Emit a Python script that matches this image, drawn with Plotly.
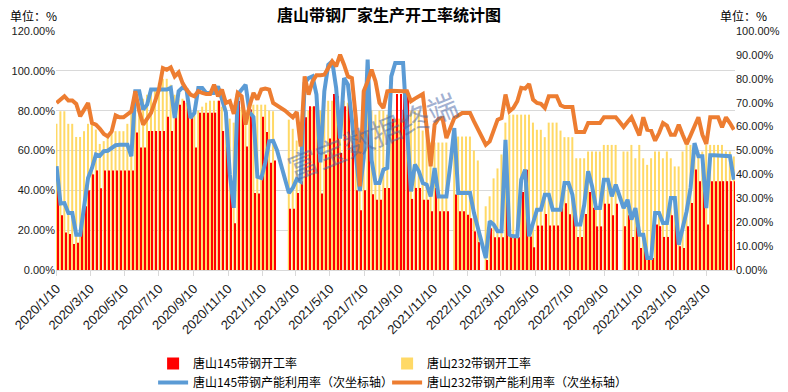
import plotly.graph_objects as go
import pandas as pd

# weekly dates (categories)
weeks = pd.date_range('2020-01-10', periods=173, freq='7D')

red_145 = [
    49.7, 27.5, 18.8, 18.1, 13.1, 13.7, 22.6, 32, 40, 48, 50, 41, 50, 50, 50, 50, 50, 50, 50, 50,
    69, 61.5, 61.5, 69.8, 69.8, 69.8, 69.8, 69.8, 77, 69.8, 83, 83, 85, 83, 77, 61.5, 79, 79, 79, 79, 79, 85, 69.8, 62,
    38.5, 23.5, 84.8, 80.6, 62, 80.6, 38.7, 38.4, 76.9, 69.3, 53.8, 55,
    None, None, None,
    30.7, 30.7, 38.7, 44.6, 76.7, 82.2, 82.2, 69.7, 38.4, 58, 66, 88.4, 87.3, 58.8, 82.2, 88.4, 70, 40, 30, 40,
    82.2, 38, 35.3, 35.3, 41.2, 41.2, 76, 88.4, 88.4,
    88.4, 88.4, 35.7, 41.2, 41.2, 35.3, 35.3, 29.5, 41.2, 29.5, 29.5, 29.5,
    None,
    37.9, 29.5, 29.5, 27.8, 26, 19.4, 14,
    None,
    5, 21, 16.4, 16.4, 16.4, 44, 16.4, 16.4, 16.4, 39.2, 50.3, 16.8, 11.4, 22.3, 22.3, 28.1, 22.3, 22.3, 22.3, 33.5, 33.5, 28,
    28.1, 16.6, 16.6, 28.1, 39.2, 31.2, 21.9, 21.9, 33.3, 33.3, 27.5, 33.3,
    None,
    22, 27.5, 16.6, 22, 11.1, 11.1, 6, 6, 22.8, 22, 16.6, 16.6, 27.5, 27.5, 11.9, 11.1, 22, 33.7, 50.4, 44.6,
    44.6, 22.8, 44.6, 44.6, 44.6, 44.6, 44.6, 44.6, 44.6,
]

yellow_232 = [
    73.4, 79.7, 79.7, 73.4, 73.4, 66.8, 66.8, 69.7, 73.4, 73, 70.5, 63.3, 64.7, 66.3, 69.7, 69.7, 69.7, 69.7, 73.4, 79.7,
    80, 84, 86, 88, 90, 90, 94, 96, 96, 93, 88, 86, 86, 84, 80, 80, 80, 82, 84, 85, 85, 85, 82, 80, 76, 74,
    85, 82, 80, 80, 83, 83, 83, 83, 80, 79.7,
    None, None, None,
    75.5, 70.9, 65, 63, 80, 80, 82, 83, 80, 83, 85, 85, 85, 80, 85, 84, 80, 76, 70, 76,
    80, 80, 78, 80, 80, 78, 80, 76, 76, 76, 76, 80, 80, 80, 70, 70, 64, 64, 64, 64, 64,
    None,
    67, 67, 67, 67, 67, 60, 55,
    None,
    32, 37, 46, 51, 58, 74, 78, 78, 78, 78, 78, 78, 74, 70.4, 70.4, 66.7, 74, 74, 74, 70, 66.7, 66.7,
    66.7, 56.1, 56.1, 56.1, 59.5, 59.5, 59.5, 59.5, 62.8, 62.8, 62.8, 62.8,
    None,
    59.5, 59.5, 62.8, 56.1, 62.8, 56.1, 52.8, 56.1, 59.5, 59.5, 56.1, 59.5, 56.1, 52, 52, 59.5, 62.8, 62.8, 62.8, 59.5,
    59.5, 62.8, 62.8, 62.8, 62.8, 62.8, 59.5, 59.5, 57,
]

blue_145_util = [
    43.4, 27.8, 28, 23.8, 23.8, 14.8, 14.8, 25.9, 38.5, 42.7, 48.3, 47.8, 49.7, 49.9, 51, 52.2, 52.4, 52.4, 52.4, 47.6,
    74.8, 74.8, 67.1, 69.2, 75.5, 75.5, 75.5, 75.5, 75.5, 76.2, 63.6, 74.8, 76.4, 75.5, 63.6, 65.7, 76.2, 76.2, 74.1, 74.1,
    74.1, 76.8, 72,
    66, 40, 26, 73.4, 75.5, 77.5, 66, 64, 39, 38.5, 45, 53.8, 54, 50, 44, 38.5, 32.2, 34.3, 38, 37,
    78.2, 80.3, 81, 73.4, 45, 74.8, 85.9, 87.3, 76.2, 55, 80.3, 77.5, 62.2, 44.6, 33, 46.9, 88, 46, 36.4, 36.4,
    42, 42.7, 81, 86.6, 86.6,
    86.6, 59.4, 32.9, 44.1, 41.3, 36.4, 35.7, 30.8, 42.7, 30.8, 30.8, 30.8, 44.1, 59.4, 32.2, 32.2, 32.2, 32.2, 23.8, 17.6,
    12, 5, 20.4, 19, 16.2, 16.2, 54.5, 14.8, 14.1, 14.1, 37.8, 42, 14.1, 20.4, 25.2, 25.2, 31.5, 31.5, 25.2, 25.2,
    25.2, 36.4, 36.4,
    31.5, 19, 19, 27.3, 41.3, 35, 25.9, 25.9, 37.8, 37.8, 30.8, 35.7, 30.8, 25.9, 29.4, 21.1, 25.9, 14.8, 14.8, 5,
    5, 23.8, 23.8, 19.7, 19.7, 30.1, 30.1, 10.6, 17.6, 24.5, 34.3, 53.1, 47.6, 47.6, 25.9, 48, 48, 48, 47.6, 47.6,
    47.6, 37.8,
]

orange_232_util = [
    69.9, 71.3, 72.7, 70.9, 70.9, 69.5, 64.3, 67.1, 69.9, 61.5, 60.8, 59.1, 56.9, 55.9, 58.0, 64.7, 63.9, 63.9, 65.0, 66.4,
    74.8, 66.4, 60.8, 63.3, 65.7, 70.6, 75.5, 84.5, 83.8, 84.8, 81.0, 82.7, 78.2, 75.5, 73.4, 72.7, 74.8, 74.1, 73.6, 73.6,
    77.5, 72.7, 75.5, 69.9, 70.6,
    65.3, 74.1, 72.7, 60.8, 68.5, 74.1, 71.3, 75.5, 75.9, 75.5, 69.9, 68.9, 67.8, 66.7, 65.3, 63.9, 66.1, 51.7, 81.0, 73.4,
    78.9, 81.5, 81.5, 81.7, 84.5, 87.3, 85.2, 90.1, 85.9, 81.0, 80.3, 63.6, 35.0, 74.8, 78.9, 83.8, 78.9, 69.9, 67.8, 74.8,
    75.0, 74.8, 74.8,
    74.8, 74.8, 70.6, 71.7, 72.7, 73.6, 59.4, 43.4, 60.8, 63.3, 63.6, 55.2, 59.4, 63.6, 64.6, 65.7, 65.7, 65.7, 62.2, 58.7,
    55.2, 52.4, 53.8, 58.0, 62.9, 63.6, 73.4, 66.4, 67.8, 70.6, 76.2, 75.9, 77.8, 71.3, 69.9, 69.5, 67.8, 72.7, 72.7, 72.7,
    68.9, 68.2, 68.2,
    68.2, 57.7, 57.7, 57.7, 61.5, 61.5, 61.5, 61.5, 63.9, 63.9, 63.9, 63.9, 61.9, 59.8, 61.9, 63.9, 60.1, 56.3, 63.9, 58.7,
    58.3, 54.1, 57.3, 61.5, 60.4, 56.6, 56.6, 60.8, 56.6, 52.7, 56.3, 60.1, 63.9, 56.6, 52.7, 63.9, 63.9, 63.9, 59.7, 63.9,
    61.5, 58.7,
]

tick_dates = ['2020-01-10', '2020-03-10', '2020-05-10', '2020-07-10', '2020-09-10', '2020-11-10',
              '2021-01-10', '2021-03-10', '2021-05-10', '2021-07-10', '2021-09-10', '2021-11-10',
              '2022-01-10', '2022-03-10', '2022-05-10', '2022-07-10', '2022-09-10', '2022-11-10',
              '2023-01-10', '2023-03-10']
tick_labels = ['2020/1/10', '2020/3/10', '2020/5/10', '2020/7/10', '2020/9/10', '2020/11/10',
               '2021/1/10', '2021/3/10', '2021/5/10', '2021/7/10', '2021/9/10', '2021/11/10',
               '2022/1/10', '2022/3/10', '2022/5/10', '2022/7/10', '2022/9/10', '2022/11/10',
               '2023/1/10', '2023/3/10']

CJK = 'Noto Sans CJK SC, Noto Sans, sans-serif'
NUM = 'Liberation Sans, Arial, sans-serif'

PX_MS = 153.6e6  # ms per pixel on the date axis (approx)

fig = go.Figure()
fig.add_bar(x=weeks, y=yellow_232, name='唐山232带钢开工率', marker_color='#FFD966',
            marker_line_width=0, legendrank=2, width=2.0 * PX_MS, offset=-1.1 * PX_MS)
fig.add_bar(x=weeks, y=red_145, name='唐山145带钢开工率', marker_color='#FF0000',
            marker_line_width=0, legendrank=1, width=1.2 * PX_MS, offset=0.9 * PX_MS)
fig.add_scatter(x=weeks, y=blue_145_util, yaxis='y2', mode='lines', name='唐山145带钢产能利用率（次坐标轴）',
                line=dict(color='#5B9BD5', width=4), legendrank=3)
fig.add_scatter(x=weeks, y=orange_232_util, yaxis='y2', mode='lines', name='唐山232带钢产能利用率（次坐标轴）',
                line=dict(color='#ED7D31', width=4), legendrank=4)

fig.update_layout(
    width=788, height=392,
    margin=dict(l=56, r=53, t=31, b=122, autoexpand=False),
    paper_bgcolor='white', plot_bgcolor='white',
    barmode='overlay',
    font=dict(family=CJK, size=12, color='#000000'),
    title=dict(text='<b>唐山带钢厂家生产开工率统计图</b>', x=389 / 788, xanchor='center',
               y=1 - 15 / 392, yanchor='middle', font=dict(size=16, family=CJK, color='#000000')),
    xaxis=dict(type='date', range=['2020-01-09', '2023-04-30'], tickvals=tick_dates, ticktext=tick_labels,
               tickangle=-45, ticks='outside', ticklen=5, tickcolor='#D9D9D9', showline=True,
               linecolor='#D9D9D9', linewidth=1, showgrid=False, zeroline=False, automargin=False,
               tickfont=dict(family=NUM, size=13, color='#1a1a1a')),
    yaxis=dict(range=[0, 120], dtick=20, tickformat='.2f', ticksuffix='%', showgrid=True,
               gridcolor='#D9D9D9', gridwidth=1, zeroline=False, showline=False, automargin=False,
               tickfont=dict(family=NUM, size=11, color='#1a1a1a')),
    yaxis2=dict(overlaying='y', side='right', range=[0, 100], dtick=10, tickformat='.2f', ticksuffix='%',
                showgrid=False, zeroline=False, showline=False, automargin=False,
                tickfont=dict(family=NUM, size=11, color='#1a1a1a')),
    legend=dict(orientation='h', x=0.143, xanchor='left', yref='container', y=(392 - 349) / 392,
                yanchor='top', entrywidth=189, entrywidthmode='pixels',
                font=dict(family=CJK, size=12, color='#000000'),
                bgcolor='rgba(0,0,0,0)', tracegroupgap=0, itemwidth=30),
    annotations=[
        dict(text='单位：%', xref='paper', yref='paper', x=(8 - 56) / 679, y=(270 - 15) / 239,
             xanchor='left', yanchor='middle', showarrow=False, font=dict(family=CJK, size=12, color='#000000')),
        dict(text='单位：%', xref='paper', yref='paper', x=(718 - 56) / 679, y=(270 - 15) / 239,
             xanchor='left', yanchor='middle', showarrow=False, font=dict(family=CJK, size=12, color='#000000')),
        dict(text='富宝数据终端', xref='paper', yref='paper', x=(372 - 56) / 679, y=(270 - 135) / 239,
             xanchor='center', yanchor='middle', showarrow=False, textangle=-22,
             font=dict(family=CJK, size=30, color='rgba(70,100,165,0.5)')),
    ],
)

fig.write_html('out.html', config={'displayModeBar': False},
               post_script="document.body.style.margin='0';document.body.style.padding='0';"
                           "document.body.style.overflow='hidden';")
